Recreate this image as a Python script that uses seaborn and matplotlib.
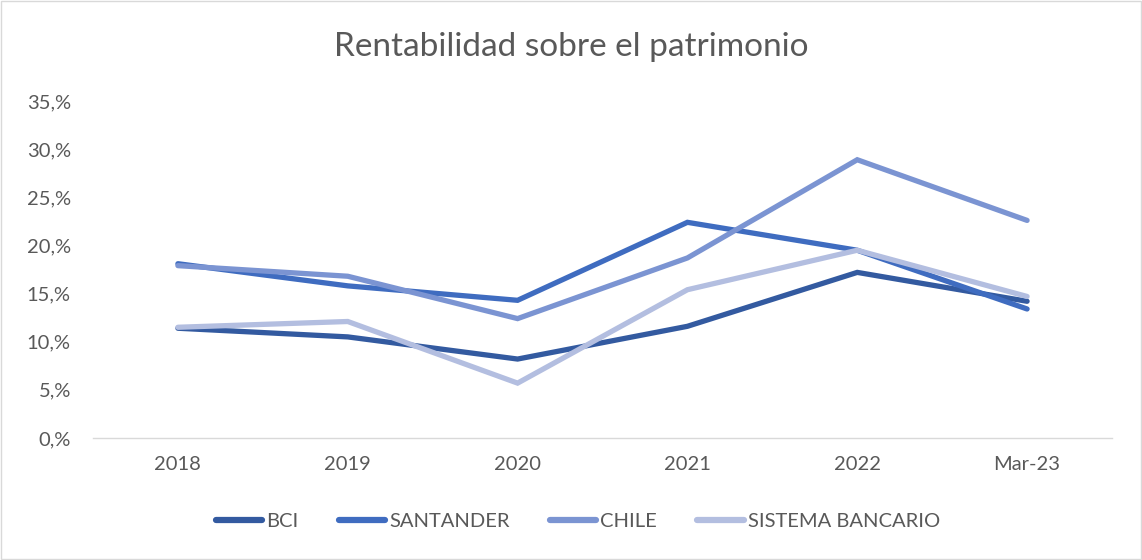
import matplotlib
matplotlib.use("Agg")
import matplotlib.pyplot as plt
import matplotlib.patches as patches
from matplotlib.ticker import FuncFormatter, MultipleLocator
import seaborn as sns
import pandas as pd

categories = ["2018", "2019", "2020", "2021", "2022", "Mar-23"]
bci = [11.4, 10.5, 8.2, 11.6, 17.2, 14.2]
santander = [18.1, 15.8, 14.3, 22.4, 19.5, 13.4]
chile = [17.9, 16.8, 12.4, 18.7, 28.9, 22.6]
sistema = [11.5, 12.1, 5.7, 15.4, 19.5, 14.7]
series_names = ["BCI", "SANTANDER", "CHILE", "SISTEMA BANCARIO"]
colors = ["#335AA0", "#3F6CC0", "#7B94D2", "#B3BEE0"]

rows = []
for name, vals in zip(series_names, [bci, santander, chile, sistema]):
    for i, v in enumerate(vals):
        rows.append({"idx": i, "value": v / 100.0, "serie": name})
df = pd.DataFrame(rows)

sns.set_theme(style="white")
plt.rcParams["font.family"] = ["Lato", "DejaVu Sans"]
text_color = "#595959"

fig = plt.figure(figsize=(11.42, 5.6), dpi=100)
ax = fig.add_axes([93 / 1142, 1 - 438 / 560, (1112 - 93) / 1142, (438 - 101) / 560])

sns.lineplot(data=df, x="idx", y="value", hue="serie", hue_order=series_names,
             palette=colors, linewidth=3.8, ax=ax, legend=True,
             solid_capstyle="round", solid_joinstyle="miter")

ax.set_xlim(-0.5, len(categories) - 0.5)
ax.set_ylim(0, 0.35)
ax.set_xticks(range(len(categories)))
ax.set_xticklabels(categories)
ax.yaxis.set_major_locator(MultipleLocator(0.05))
ax.yaxis.set_major_formatter(FuncFormatter(lambda v, p: f"{int(round(v * 100))},%"))
ax.tick_params(axis="both", length=0, labelsize=14.5, colors=text_color)
ax.tick_params(axis="y", pad=16)
ax.tick_params(axis="x", pad=13)
ax.set_xlabel("")
ax.set_ylabel("")
for s in ["top", "right", "left"]:
    ax.spines[s].set_visible(False)
ax.spines["bottom"].set_color("#D9D9D9")
ax.spines["bottom"].set_linewidth(1)
ax.grid(False)

fig.text(0.5, 1 - 47 / 560, "Rentabilidad sobre el patrimonio", ha="center", va="center",
         fontsize=24, color=text_color)

handles, labels = ax.get_legend_handles_labels()
for h in handles:
    h.set_linewidth(4.5)
    h.set_solid_capstyle("round")
ax.legend(handles, labels, loc="center", bbox_to_anchor=(578 / 1142, 1 - 521 / 560),
          bbox_transform=fig.transFigure, ncol=4, frameon=False, fontsize=14.5,
          handlelength=2.3, handletextpad=0.2, columnspacing=2.0, labelcolor=text_color)

fig.add_artist(patches.Rectangle((0.001, 0.001), 0.998, 0.997, transform=fig.transFigure,
                                 fill=False, edgecolor="#D9D9D9", linewidth=1))

fig.savefig("out.png", dpi=100)
